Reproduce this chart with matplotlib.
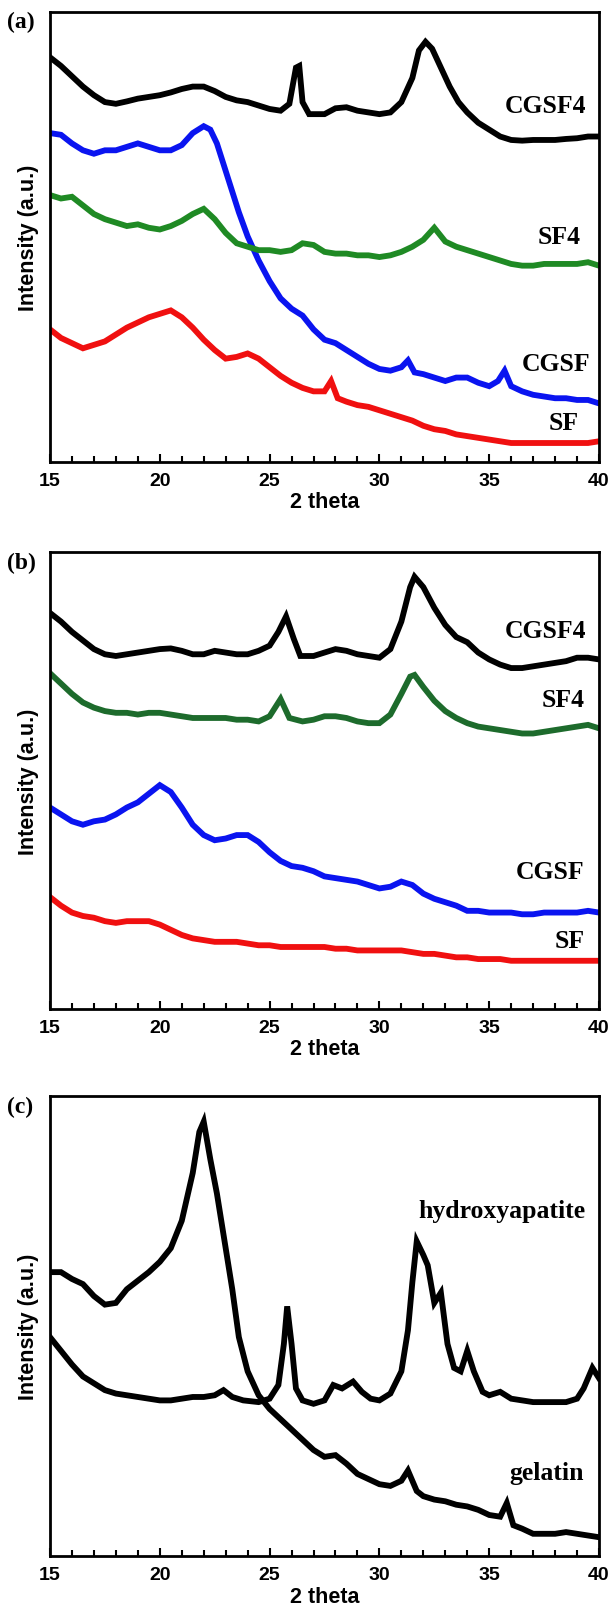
import matplotlib.pyplot as plt
from matplotlib.ticker import MultipleLocator

# ---- panel (a) ----
a_cgsf4_x = [15.0, 15.5, 16.0, 16.5, 17.0, 17.5, 18.0, 18.5, 19.0, 19.5, 20.0, 20.5, 21.0, 21.5, 22.0,
             22.5, 23.0, 23.5, 24.0, 24.5, 25.0, 25.5, 25.9, 26.2, 26.35, 26.5, 26.8, 27.5, 28.0, 28.5,
             29.0, 29.5, 30.0, 30.5, 31.0, 31.5, 31.8, 32.1, 32.4, 32.8, 33.2, 33.6, 34.0, 34.5, 35.0,
             35.5, 36.0, 36.5, 37.0, 37.5, 38.0, 38.5, 39.0, 39.5, 40.0]
a_cgsf4_y = [1175, 1150, 1120, 1090, 1065, 1045, 1040, 1047, 1055, 1060, 1065, 1073, 1083, 1090, 1090,
             1077, 1060, 1050, 1045, 1035, 1025, 1020, 1040, 1145, 1150, 1045, 1010, 1010, 1027, 1030,
             1020, 1015, 1010, 1015, 1045, 1115, 1195, 1220, 1200, 1145, 1090, 1045, 1015, 985, 965,
             945, 935, 933, 935, 935, 935, 938, 940, 945, 945]

a_cgsf_x = [15.0, 15.5, 16.0, 16.5, 17.0, 17.5, 18.0, 18.5, 19.0, 19.5, 20.0, 20.5, 21.0, 21.5, 22.0,
            22.3, 22.6, 23.0, 23.3, 23.6, 24.0, 24.5, 25.0, 25.5, 26.0, 26.5, 27.0, 27.5, 28.0, 28.5,
            29.0, 29.5, 30.0, 30.5, 31.0, 31.3, 31.6, 32.0, 32.5, 33.0, 33.5, 34.0, 34.5, 35.0, 35.4,
            35.7, 36.0, 36.5, 37.0, 37.5, 38.0, 38.5, 39.0, 39.5, 40.0]
a_cgsf_y = [955, 950, 925, 905, 895, 905, 905, 915, 925, 915, 905, 905, 920, 955, 975,
            965, 925, 845, 785, 725, 655, 585, 525, 475, 445, 425, 385, 355, 345, 325,
            305, 285, 270, 265, 275, 295, 260, 255, 245, 235, 245, 245, 230, 220, 235,
            265, 220, 205, 195, 190, 185, 185, 180, 180, 170]

a_sf4_x = [15.0, 15.5, 16.0, 16.5, 17.0, 17.5, 18.0, 18.5, 19.0, 19.5, 20.0, 20.5, 21.0, 21.5, 22.0,
           22.5, 23.0, 23.5, 24.0, 24.5, 25.0, 25.5, 26.0, 26.5, 27.0, 27.5, 28.0, 28.5, 29.0, 29.5,
           30.0, 30.5, 31.0, 31.5, 32.0, 32.5, 33.0, 33.5, 34.0, 34.5, 35.0, 35.5, 36.0, 36.5, 37.0,
           37.5, 38.0, 38.5, 39.0, 39.5, 40.0]
a_sf4_y = [775, 765, 770, 745, 720, 705, 695, 685, 690, 680, 675, 685, 700, 720, 735,
           705, 665, 635, 625, 615, 615, 610, 615, 635, 630, 610, 605, 605, 600, 600,
           595, 600, 610, 625, 645, 680, 640, 625, 615, 605, 595, 585, 575, 570, 570,
           575, 575, 575, 575, 580, 570]

a_sf_x = [15.0, 15.5, 16.0, 16.5, 17.0, 17.5, 18.0, 18.5, 19.0, 19.5, 20.0, 20.5, 21.0, 21.5, 22.0,
          22.5, 23.0, 23.5, 24.0, 24.5, 25.0, 25.5, 26.0, 26.5, 27.0, 27.5, 27.8, 28.1, 28.5, 29.0,
          29.5, 30.0, 30.5, 31.0, 31.5, 32.0, 32.5, 33.0, 33.5, 34.0, 34.5, 35.0, 35.5, 36.0, 36.5,
          37.0, 37.5, 38.0, 38.5, 39.0, 39.5, 40.0]
a_sf_y = [385, 360, 345, 330, 340, 350, 370, 390, 405, 420, 430, 440, 420, 390, 355,
          325, 300, 305, 315, 300, 275, 250, 230, 215, 205, 205, 235, 185, 175, 165,
          160, 150, 140, 130, 120, 105, 95, 90, 80, 75, 70, 65, 60, 55, 55,
          55, 55, 55, 55, 55, 55, 60]

# ---- panel (b) ----
b_cgsf4_x = [15.0, 15.5, 16.0, 16.5, 17.0, 17.5, 18.0, 18.5, 19.0, 19.5, 20.0, 20.5, 21.0, 21.5, 22.0,
             22.5, 23.0, 23.5, 24.0, 24.5, 25.0, 25.4, 25.75, 26.1, 26.4, 27.0, 27.5, 28.0, 28.5, 29.0,
             29.5, 30.0, 30.5, 31.0, 31.4, 31.6, 32.0, 32.5, 33.0, 33.5, 34.0, 34.5, 35.0, 35.5, 36.0,
             36.5, 37.0, 37.5, 38.0, 38.5, 39.0, 39.5, 40.0]
b_cgsf4_y = [1150, 1125, 1095, 1070, 1045, 1030, 1025, 1030, 1035, 1040, 1045, 1047, 1040, 1030, 1030,
             1040, 1035, 1030, 1030, 1040, 1055, 1095, 1140, 1075, 1025, 1025, 1035, 1045, 1040, 1030,
             1025, 1020, 1045, 1125, 1225, 1255, 1225, 1165, 1115, 1080, 1065, 1035, 1015, 1000, 990,
             990, 995, 1000, 1005, 1010, 1020, 1020, 1015]

b_sf4_x = [15.0, 15.5, 16.0, 16.5, 17.0, 17.5, 18.0, 18.5, 19.0, 19.5, 20.0, 20.5, 21.0, 21.5, 22.0,
           22.5, 23.0, 23.5, 24.0, 24.5, 25.0, 25.5, 25.9, 26.5, 27.0, 27.5, 28.0, 28.5, 29.0, 29.5,
           30.0, 30.5, 31.0, 31.4, 31.6, 32.0, 32.5, 33.0, 33.5, 34.0, 34.5, 35.0, 35.5, 36.0, 36.5,
           37.0, 37.5, 38.0, 38.5, 39.0, 39.5, 40.0]
b_sf4_y = [975, 945, 915, 890, 875, 865, 860, 860, 855, 860, 860, 855, 850, 845, 845,
           845, 845, 840, 840, 835, 850, 900, 845, 835, 840, 850, 850, 845, 835, 830,
           830, 855, 915, 965, 970, 935, 895, 865, 845, 830, 820, 815, 810, 805, 800,
           800, 805, 810, 815, 820, 825, 815]

b_cgsf_x = [15.0, 15.5, 16.0, 16.5, 17.0, 17.5, 18.0, 18.5, 19.0, 19.5, 20.0, 20.5, 21.0, 21.5, 22.0,
            22.5, 23.0, 23.5, 24.0, 24.5, 25.0, 25.5, 26.0, 26.5, 27.0, 27.5, 28.0, 28.5, 29.0, 29.5,
            30.0, 30.5, 31.0, 31.5, 32.0, 32.5, 33.0, 33.5, 34.0, 34.5, 35.0, 35.5, 36.0, 36.5, 37.0,
            37.5, 38.0, 38.5, 39.0, 39.5, 40.0]
b_cgsf_y = [585, 565, 545, 535, 545, 550, 565, 585, 600, 625, 650, 630, 585, 535, 505,
            490, 495, 505, 505, 485, 455, 430, 415, 410, 400, 385, 380, 375, 370, 360,
            350, 355, 370, 360, 335, 320, 310, 300, 285, 285, 280, 280, 280, 275, 275,
            280, 280, 280, 280, 285, 280]

b_sf_x = [15.0, 15.5, 16.0, 16.5, 17.0, 17.5, 18.0, 18.5, 19.0, 19.5, 20.0, 20.5, 21.0, 21.5, 22.0,
          22.5, 23.0, 23.5, 24.0, 24.5, 25.0, 25.5, 26.0, 26.5, 27.0, 27.5, 28.0, 28.5, 29.0, 29.5,
          30.0, 30.5, 31.0, 31.5, 32.0, 32.5, 33.0, 33.5, 34.0, 34.5, 35.0, 35.5, 36.0, 36.5, 37.0,
          37.5, 38.0, 38.5, 39.0, 39.5, 40.0]
b_sf_y = [325, 300, 280, 270, 265, 255, 250, 255, 255, 255, 245, 230, 215, 205, 200,
          195, 195, 195, 190, 185, 185, 180, 180, 180, 180, 180, 175, 175, 170, 170,
          170, 170, 170, 165, 160, 160, 155, 150, 150, 145, 145, 145, 140, 140, 140,
          140, 140, 140, 140, 140, 140]

# ---- panel (c) ----
c_gel_x = [15.0, 15.5, 16.0, 16.5, 17.0, 17.5, 18.0, 18.5, 19.0, 19.5, 20.0, 20.5, 21.0, 21.5, 21.8,
           22.0, 22.3, 22.6, 23.0, 23.3, 23.6, 24.0, 24.5, 25.0, 25.5, 26.0, 26.5, 27.0, 27.5, 28.0,
           28.5, 29.0, 29.5, 30.0, 30.5, 31.0, 31.3, 31.7, 32.0, 32.5, 33.0, 33.5, 34.0, 34.5, 35.0,
           35.5, 35.8, 36.1, 36.5, 37.0, 37.5, 38.0, 38.5, 39.0, 39.5, 40.0]
c_gel_y = [830, 830, 810, 795, 760, 735, 740, 780, 805, 830, 860, 900, 980, 1120, 1240,
           1270, 1160, 1060, 900, 780, 640, 540, 470, 430, 400, 370, 340, 310, 290, 295,
           270, 240, 225, 210, 205, 220, 250, 190, 175, 165, 160, 150, 145, 135, 120,
           115, 155, 90, 80, 65, 65, 65, 70, 65, 60, 55]

c_hap_x = [15.0, 15.5, 16.0, 16.5, 17.0, 17.5, 18.0, 18.5, 19.0, 19.5, 20.0, 20.5, 21.0, 21.5, 22.0,
           22.5, 22.9, 23.3, 23.8, 24.5, 25.0, 25.4, 25.65, 25.8, 26.0, 26.2, 26.5, 27.0, 27.5, 27.9,
           28.3, 28.8, 29.2, 29.6, 30.0, 30.5, 31.0, 31.3, 31.5, 31.7, 32.0, 32.2, 32.5, 32.8, 33.1,
           33.4, 33.7, 34.0, 34.3, 34.7, 35.0, 35.5, 36.0, 36.5, 37.0, 37.5, 38.0, 38.5, 39.0, 39.3,
           39.7, 40.0]
c_hap_y = [640, 600, 560, 525, 505, 485, 475, 470, 465, 460, 455, 455, 460, 465, 465,
           470, 485, 465, 455, 450, 460, 500, 620, 730, 620, 490, 455, 445, 455, 500,
           490, 510, 480, 460, 455, 475, 540, 660, 800, 920, 880, 850, 740, 770, 620,
           550, 540, 600, 540, 480, 470, 480, 460, 455, 450, 450, 450, 450, 460, 490,
           550, 520]

black = 'black'
blue = '#0a14f0'
green_a = '#1f8a24'
green_b = '#1d6b2c'
red = '#f01010'

panels = [
    ('(a)', [0.0821, 0.7121, 0.9015, 0.2799], 1307,
     [(a_cgsf4_x, a_cgsf4_y, black, 'CGSF4', 35.7, 1035),
      (a_sf_x, a_sf_y, red, 'SF', 37.7, 115),
      (a_cgsf_x, a_cgsf_y, blue, 'CGSF', 36.5, 285),
      (a_sf4_x, a_sf4_y, green_a, 'SF4', 37.2, 655)]),
    ('(b)', [0.0821, 0.3719, 0.9015, 0.2842], 1327,
     [(b_cgsf4_x, b_cgsf4_y, black, 'CGSF4', 35.7, 1100),
      (b_sf4_x, b_sf4_y, green_b, 'SF4', 37.4, 900),
      (b_cgsf_x, b_cgsf_y, blue, 'CGSF', 36.2, 400),
      (b_sf_x, b_sf_y, red, 'SF', 38.0, 200)]),
    ('(c)', [0.0821, 0.0317, 0.9015, 0.2861], 1345,
     [(c_gel_x, c_gel_y, black, 'gelatin', 35.9, 245),
      (c_hap_x, c_hap_y, black, 'hydroxyapatite', 31.75, 1010)]),
]

fig = plt.figure(figsize=(6.09, 16.08), dpi=100)

for tag, rect, ytop, series in panels:
    ax = fig.add_axes(rect)
    for xs, ys, col, name, lx, ly in series:
        # thick trace stands in for the noisy band of the scan
        ax.plot(xs, ys, color=col, lw=4.2, solid_joinstyle='miter')
        ax.text(lx, ly, name, fontsize=18.5, fontweight='bold',
                family='Liberation Serif', ha='left', va='center')
    ax.set_xlim(15, 40)
    ax.set_ylim(0, ytop)
    ax.set_yticks([])
    ax.xaxis.set_major_locator(MultipleLocator(5))
    ax.xaxis.set_minor_locator(MultipleLocator(1))
    ax.tick_params(axis='x', which='major', direction='in', length=6, width=1.5,
                   labelsize=14, pad=7)
    ax.tick_params(axis='x', which='minor', direction='in', length=4, width=1.5)
    for lab in ax.get_xticklabels():
        lab.set_fontweight('bold')
        lab.set_family('Liberation Sans')
    for sp in ax.spines.values():
        sp.set_linewidth(2)
    ax.set_xlabel('2 theta', fontsize=15.5, fontweight='bold', family='Liberation Sans', labelpad=2)
    ax.set_ylabel('Intensity (a.u.)', fontsize=15.5, fontweight='bold', family='Liberation Sans',
                  labelpad=8)
    top_px = (1 - rect[1] - rect[3]) * 1608
    fig.text(7 / 609, 1 - (top_px + 10) / 1608, tag, fontsize=17, fontweight='bold',
             family='Liberation Serif', ha='left', va='center')

fig.savefig('out.png', dpi=100)
